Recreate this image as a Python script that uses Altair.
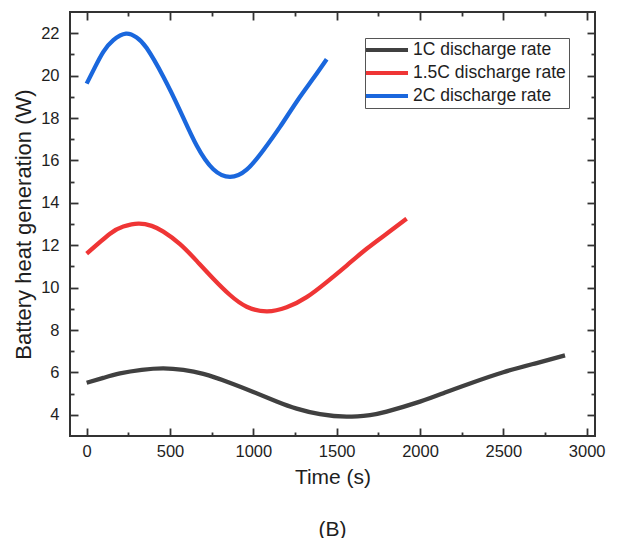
import altair as alt
import pandas as pd

series_names = ["1C discharge rate", "1.5C discharge rate", "2C discharge rate"]
series_colors = ["#404040", "#ef3535", "#1a67dd"]

t_1c = [0, 100, 200, 330, 460, 580, 700, 850, 1000, 1140, 1260, 1400, 1560, 1700, 1800, 2000, 2150, 2300, 2500, 2700, 2870]
y_1c = [5.51, 5.74, 5.95, 6.12, 6.19, 6.12, 5.93, 5.54, 5.08, 4.63, 4.29, 4.03, 3.91, 3.99, 4.15, 4.62, 5.05, 5.48, 6.01, 6.44, 6.80]

t_15c = [0, 140, 220, 310, 390, 460, 560, 660, 760, 860, 960, 1080, 1200, 1320, 1440, 1560, 1680, 1800, 1920]
y_15c = [11.60, 12.54, 12.88, 13.02, 12.91, 12.64, 12.05, 11.26, 10.42, 9.65, 9.10, 8.88, 9.07, 9.55, 10.26, 11.04, 11.83, 12.54, 13.25]

t_2c = [0, 50, 100, 160, 236, 300, 360, 460, 560, 660, 760, 860, 960, 1060, 1160, 1260, 1360, 1440]
y_2c = [19.62, 20.40, 21.12, 21.67, 21.98, 21.80, 21.30, 19.95, 18.35, 16.70, 15.58, 15.22, 15.56, 16.48, 17.58, 18.77, 19.87, 20.77]

x_major = [0, 500, 1000, 1500, 2000, 2500, 3000]
x_minor = [250, 750, 1250, 1750, 2250, 2750]
y_major = [4, 6, 8, 10, 12, 14, 16, 18, 20, 22]
y_minor = [5, 7, 9, 11, 13, 15, 17, 19, 21]

rows = []
for name, ts, ys in zip(series_names, [t_1c, t_15c, t_2c], [y_1c, y_15c, y_2c]):
    for t, v in zip(ts, ys):
        rows.append({"series": name, "t": t, "v": v})
df = pd.DataFrame(rows)

INK = "#333333"
TXT = "#1e1e1e"
xscale = alt.Scale(domain=[-100, 3050], nice=False, zero=False)
yscale = alt.Scale(domain=[3, 23], nice=False, zero=False)


def ax(orient, values, size, labels=False, title=None, **kw):
    opts = dict(orient=orient, values=values, offset=-size, tickSize=size,
                tickColor=INK, tickWidth=1.8, domain=False, grid=False,
                labels=labels, title=title, labelFlush=False)
    opts.update(kw)
    return alt.Axis(**opts)


main = alt.Chart(df).mark_line(strokeWidth=4.3, interpolate="natural").encode(
    x=alt.X("t:Q", scale=xscale,
            axis=ax("bottom", x_major, 8, labels=True, title="Time (s)",
                    labelFontSize=16.5, labelColor=TXT, labelPadding=7,
                    titleFontSize=21, titleColor=TXT, titleFontWeight="normal",
                    titlePadding=7, format="d")),
    y=alt.Y("v:Q", scale=yscale,
            axis=ax("left", y_major, 8, labels=True,
                    title="Battery heat generation (W)",
                    labelFontSize=16.5, labelColor=TXT, labelPadding=11,
                    titleFontSize=22, titleColor=TXT, titleFontWeight="normal",
                    titlePadding=5, format="d")),
    color=alt.Color("series:N", sort=series_names,
                    scale=alt.Scale(domain=series_names, range=series_colors),
                    legend=alt.Legend(orient="none", legendX=295, legendY=26,
                                      title=None, symbolType="M-1.57,0H4.43",
                                      symbolSize=196, symbolStrokeWidth=4,
                                      labelFontSize=17.5, labelColor=TXT,
                                      labelOffset=27, padding=3, rowPadding=5,
                                      strokeColor="#555555", fillColor="white")),
)


def ghost(xa, ya):
    return alt.Chart(df).mark_line(opacity=0).encode(
        x=alt.X("t:Q", scale=xscale, axis=xa),
        y=alt.Y("v:Q", scale=yscale, axis=ya),
        detail="series:N",
    )


minor = ghost(ax("bottom", x_minor, 4), ax("left", y_minor, 4))
top_right = ghost(ax("top", x_major, 8), ax("right", y_major, 8))
top_right_minor = ghost(ax("top", x_minor, 4), ax("right", y_minor, 4))

chart = alt.layer(main, minor, top_right, top_right_minor).resolve_axis(
    x="independent", y="independent"
).properties(
    width=525, height=424,
    autosize="none",
    padding={"left": 70, "top": 12, "right": 22, "bottom": 102},
    title=alt.TitleParams("(B)", orient="bottom", anchor="middle", offset=31,
                          fontSize=21, fontWeight="normal", color=TXT),
).configure(
    font="Liberation Sans",
).configure_view(
    stroke=INK, strokeWidth=2,
)

chart.save("out.html", embed_options={"renderer": "svg", "actions": False})
